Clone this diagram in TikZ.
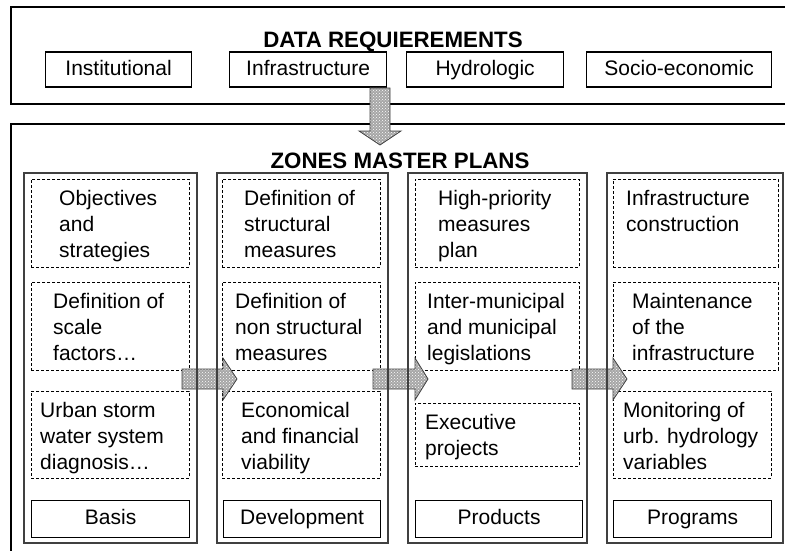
\documentclass[tikz,border=0pt]{standalone}
\usepackage{fontspec}
\setmainfont{Liberation Sans}
\usetikzlibrary{patterns}
\newcommand\bodyfs{\fontsize{21}{26}\selectfont}
\newcommand\titlefs{\fontsize{22.3}{26}\selectfont\bfseries}
\begin{document}
\begin{tikzpicture}[x=1pt,y=-1pt,
  outer/.style={line width=1.2pt, draw=black},
  colbox/.style={draw=black!75, line width=1.8pt, anchor=north west, inner sep=0pt, minimum height=370pt},
  dbox/.style={draw=black, dash pattern=on 3pt off 2pt, line width=0.9pt, anchor=north west, inner sep=0pt},
  sbox/.style={draw=black, line width=1.2pt, anchor=north west, inner sep=0pt, font=\bodyfs, text height=15.5pt, text depth=4.5pt},
  txt/.style={anchor=north west, inner sep=0pt, align=left, font=\bodyfs},
  ttl/.style={anchor=base, inner sep=0pt, font=\titlefs},
  barrow/.style={draw=black!75, line width=0.8pt, preaction={fill=black!35}, pattern=crosshatch dots, pattern color=white},
]
\useasboundingbox (0,0) rectangle (785,551);

% top frame
\draw[outer] (800,7) -| (11,104) -- (800,104);
\node[ttl] (dr) at (393,47.5) {DATA REQUIEREMENTS};
\node[sbox, minimum width=146pt, minimum height=35pt] (inst) at (45,51.5) {Institutional};
\node[sbox, minimum width=157pt, minimum height=35pt] (infra) at (229,51.5) {Infrastructure};
\node[sbox, minimum width=157pt, minimum height=35pt] (hydro) at (406,51.5) {Hydrologic};
\node[sbox, minimum width=185pt, minimum height=35pt] (socio) at (586,51.5) {Socio-economic};

% second frame
\draw[outer] (800,124) -| (11,560);
\node[ttl] (zm) at (400,168) {ZONES MASTER PLANS};

% dashed boxes
\node[dbox, minimum width=158pt, minimum height=88pt] (c1a) at (31,179) {};
\node[dbox, minimum width=158pt, minimum height=88pt] (c1b) at (31,282) {};
\node[dbox, minimum width=158pt, minimum height=87pt] (c1c) at (31,391) {};
\node[dbox, minimum width=158pt, minimum height=88pt] (c2a) at (222,179) {};
\node[dbox, minimum width=158pt, minimum height=88pt] (c2b) at (222,282) {};
\node[dbox, minimum width=158pt, minimum height=87pt] (c2c) at (222,391) {};
\node[dbox, minimum width=164pt, minimum height=88pt] (c3a) at (415,179) {};
\node[dbox, minimum width=164pt, minimum height=88pt] (c3b) at (415,282) {};
\node[dbox, minimum width=164pt, minimum height=63pt] (c3c) at (415,403) {};
\node[dbox, minimum width=165pt, minimum height=88pt] (c4a) at (613,179) {};
\node[dbox, minimum width=165pt, minimum height=88pt] (c4b) at (613,282) {};
\node[dbox, minimum width=158pt, minimum height=87pt] (c4c) at (613,391) {};

% texts
\node[txt] (t1a) at (59,186.8) {\strut Objectives\\and\\strategies};
\node[txt] (t1b) at (53,289.8) {\strut Definition of\\scale\\factors…};
\node[txt] (t1c) at (40,398.8) {\strut Urban storm\\water system\\diagnosis…};
\node[txt] (t2a) at (244,186.8) {\strut Definition of\\structural\\measures};
\node[txt] (t2b) at (235,289.8) {\strut Definition of\\non structural\\measures};
\node[txt] (t2c) at (241,398.8) {\strut Economical\\and financial\\viability};
\node[txt] (t3a) at (438,186.8) {\strut High-priority\\measures\\plan};
\node[txt] (t3b) at (427,289.8) {\strut Inter-municipal\\and municipal\\legislations};
\node[txt] (t3c) at (425,410.8) {\strut Executive\\projects};
\node[txt] (t4a) at (626,186.8) {\strut Infrastructure\\construction};
\node[txt] (t4b) at (632,289.8) {\strut Maintenance\\of the\\infrastructure};
\node[txt] (t4c) at (623,398.8) {\strut Monitoring of\\urb. hydrology\\variables};

% label boxes
\node[sbox, minimum width=158pt, minimum height=37pt] (l1) at (31,500) {Basis};
\node[sbox, minimum width=157pt, minimum height=37pt] (l2) at (223,500) {Development};
\node[sbox, minimum width=167pt, minimum height=37pt] (l3) at (415,500) {Products};
\node[sbox, minimum width=158pt, minimum height=37pt] (l4) at (613,500) {Programs};

% block arrows
\draw[barrow] (370,88) -- (390,88) -- (390,131) -- (401,131) -- (380,145) -- (359,131) -- (370,131) -- cycle;
\draw[barrow] (182,369) -- (223,369) -- (223,358) -- (237,379) -- (223,400) -- (223,389) -- (182,389) -- cycle;
\draw[barrow] (373,369) -- (415,369) -- (415,358) -- (428,379) -- (415,400) -- (415,389) -- (373,389) -- cycle;
\draw[barrow] (572,369) -- (613,369) -- (613,358) -- (627,379) -- (613,400) -- (613,389) -- (572,389) -- cycle;

% columns
\node[colbox, minimum width=173pt] (col1) at (23,172) {};
\node[colbox, minimum width=171pt] (col2) at (216,172) {};
\node[colbox, minimum width=179pt] (col3) at (407,172) {};
\node[colbox, minimum width=176pt] (col4) at (606,172) {};
\end{tikzpicture}
\end{document}
